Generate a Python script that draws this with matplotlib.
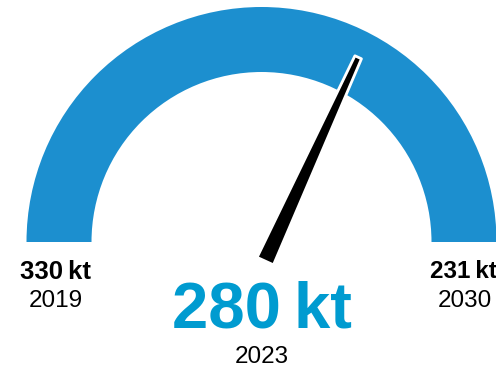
import numpy as np
import matplotlib.pyplot as plt
from matplotlib.patches import Wedge, Polygon

# gauge values
start_value = "330\u2009kt"
start_year = "2019"
end_value = "231\u2009kt"
end_year = "2030"
current_value = "280\u2009kt"
current_year = "2023"
needle_angle = 65.5  # degrees from the right end of the dial

blue = "#1c8fcf"
text_blue = "#009bd0"

plt.rcParams['font.family'] = ['Liberation Sans', 'DejaVu Sans']

fig = plt.figure(figsize=(4.96, 3.73), dpi=100)
ax = fig.add_axes([0, 0, 1, 1])
ax.set_xlim(0, 496)
ax.set_ylim(0, 373)
ax.set_aspect('equal')
ax.axis('off')

cx, cy = 261.5, 373 - 242
outer, band = 235, 65

ax.add_patch(Wedge((cx, cy), outer, 0, 180, width=band, facecolor=blue, edgecolor='none'))

# tapered needle
px, py = 274, cy
length, tail = 203, 21
w_base, w_tip = 9, 3.6
a = np.radians(needle_angle)
d = np.array([np.cos(a), np.sin(a)])
n = np.array([-d[1], d[0]])
p0 = np.array([px, py])
tip = p0 + d * length
base = p0 - d * tail
pts = [base + n * w_base, tip + n * w_tip, tip - n * w_tip, base - n * w_base]
ax.add_patch(Polygon(pts, closed=True, facecolor='black', edgecolor='white',
                     linewidth=2.0, joinstyle='round', zorder=3))

# end labels
ax.text(56, 373 - 272, start_value, ha='center', va='center', fontsize=18.5,
        fontweight='bold', color='black')
ax.text(56, 373 - 301, start_year, ha='center', va='center', fontsize=17.5, color='black')
ax.text(430, 373 - 272, end_value, ha='left', va='center', fontsize=17.5,
        fontweight='bold', color='black')
ax.text(465, 373 - 301, end_year, ha='center', va='center', fontsize=17.5, color='black')

# current reading
ax.text(262, 373 - 311, current_value, ha='center', va='center', fontsize=47,
        fontweight='bold', color=text_blue)
ax.text(262, 373 - 357, current_year, ha='center', va='center', fontsize=17.5, color='black')

fig.savefig('out.png', dpi=100, facecolor='white')
